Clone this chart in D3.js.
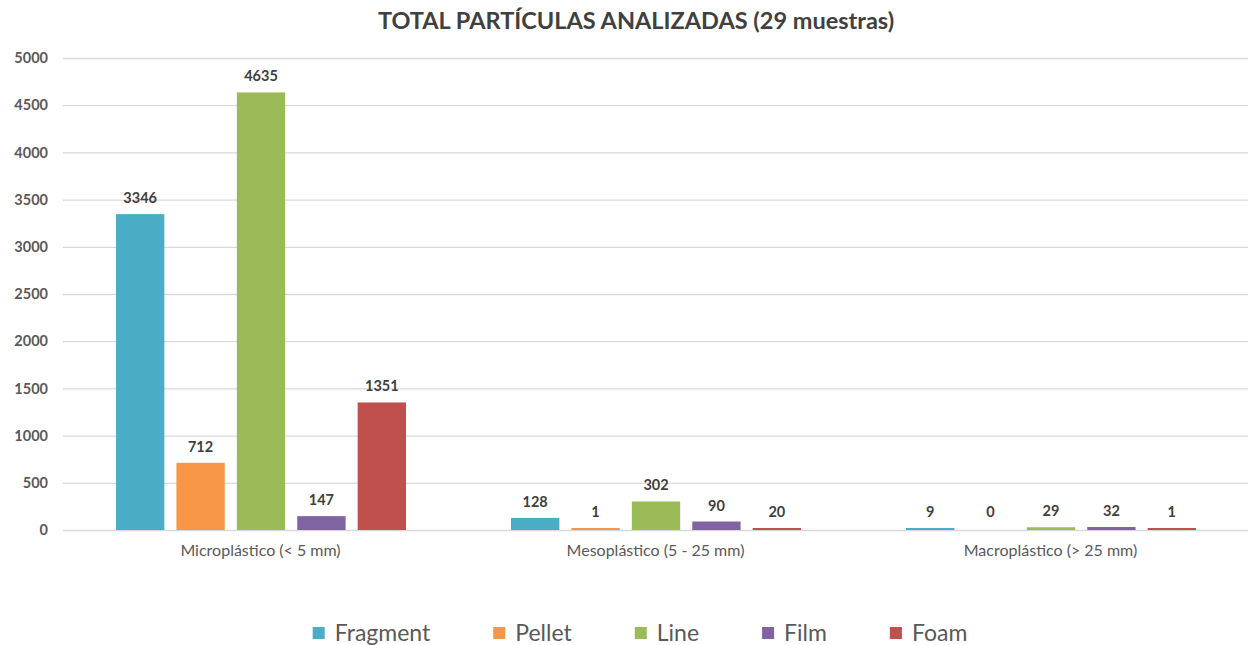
<!DOCTYPE html>
<html>
<head>
<meta charset="utf-8">
<script src="https://cdn.jsdelivr.net/npm/d3@7"></script>
<style>
  body { margin: 0; background: #fff; }
  svg { display: block; font-family: Lato, "Open Sans", sans-serif; }
</style>
</head>
<body>
<div id="chart"></div>
<script>
var categories = ["Microplástico (< 5 mm)", "Mesoplástico (5 - 25 mm)", "Macroplástico (> 25 mm)"];
var seriesNames = ["Fragment", "Pellet", "Line", "Film", "Foam"];
var fragment = [3346, 128, 9];
var pellet = [712, 1, 0];
var line = [4635, 302, 29];
var film = [147, 90, 32];
var foam = [1351, 20, 1];
var yTicks = [0, 500, 1000, 1500, 2000, 2500, 3000, 3500, 4000, 4500, 5000];
var colors = ["#4bacc6", "#f79646", "#9bbb59", "#8064a2", "#c0504d"];

var seriesValues = [fragment, pellet, line, film, foam];

var width = 1248, height = 645;
var margin = {top: 58, right: 0, bottom: 115, left: 63};
var innerW = width - margin.left - margin.right;
var innerH = height - margin.top - margin.bottom;

var svg = d3.select("#chart").append("svg")
    .attr("width", width)
    .attr("height", height);

svg.append("text")
    .attr("x", 636)
    .attr("y", 29)
    .attr("text-anchor", "middle")
    .style("font-size", "23.5px")
    .style("font-weight", "bold")
    .style("fill", "#404040")
    .text("TOTAL PARTÍCULAS ANALIZADAS (29 muestras)");

var g = svg.append("g")
    .attr("transform", "translate(" + margin.left + "," + margin.top + ")");

var x0 = d3.scaleBand()
    .domain(categories)
    .range([0, innerW])
    .paddingInner(0)
    .paddingOuter(0);

var x1 = d3.scaleBand()
    .domain(seriesNames)
    .range([53, x0.bandwidth() - 52])
    .paddingInner(0.2)
    .paddingOuter(0);

var y = d3.scaleLinear()
    .domain([0, 5000])
    .range([innerH, 0]);

// grid + y labels
var yAxis = d3.axisLeft(y)
    .tickValues(yTicks)
    .tickFormat(d3.format("d"))
    .tickSize(-innerW)
    .tickPadding(15);

g.append("g")
    .attr("class", "yAxis")
    .call(yAxis)
    .call(function(s) {
      s.select(".domain").remove();
      s.selectAll(".tick line").attr("stroke", "#d9d9d9").attr("stroke-width", 1.3);
      s.selectAll(".tick text")
        .style("font-size", "14.5px")
        .style("font-weight", "bold")
        .style("fill", "#595959")
        .style("font-family", "Lato, 'Open Sans', sans-serif");
    });

// x labels
var xAxis = d3.axisBottom(x0).tickSize(0).tickPadding(15);
g.append("g")
    .attr("transform", "translate(0," + innerH + ")")
    .call(xAxis)
    .call(function(s) {
      s.select(".domain").remove();
      s.selectAll(".tick text")
        .style("font-size", "16px")
        .style("fill", "#595959")
        .style("font-family", "Lato, 'Open Sans', sans-serif");
    });

var groups = g.selectAll(".grp")
    .data(categories)
    .enter().append("g")
    .attr("class", "grp")
    .attr("transform", function(d) { return "translate(" + x0(d) + ",0)"; });

groups.each(function(cat, ci) {
  var grp = d3.select(this);
  var rows = seriesNames.map(function(s, si) {
    return {name: s, value: seriesValues[si][ci], color: colors[si]};
  });

  grp.selectAll("rect")
    .data(rows.filter(function(d) { return d.value > 0; }))
    .enter().append("rect")
    .attr("x", function(d) { return x1(d.name); })
    .attr("width", x1.bandwidth())
    .attr("y", function(d) { return Math.min(y(d.value), innerH - 2); })
    .attr("height", function(d) { return Math.max(innerH - y(d.value), 2); })
    .attr("fill", function(d) { return d.color; });

  grp.selectAll("text.val")
    .data(rows)
    .enter().append("text")
    .attr("class", "val")
    .attr("x", function(d) { return x1(d.name) + x1.bandwidth() / 2; })
    .attr("y", function(d) { return Math.min(y(d.value), innerH - 2) - 11; })
    .attr("text-anchor", "middle")
    .style("font-size", "14.5px")
    .style("font-weight", "bold")
    .style("fill", "#404040")
    .text(function(d) { return d.value; });
});

// legend
var legend = svg.append("g");
var items = legend.selectAll("g")
    .data(seriesNames)
    .enter().append("g");

items.append("rect")
    .attr("width", 12)
    .attr("height", 12)
    .attr("y", 627)
    .attr("fill", function(d, i) { return colors[i]; });

items.append("text")
    .attr("x", 22)
    .attr("y", 641)
    .style("font-size", "23px")
    .style("fill", "#595959")
    .text(function(d) { return d; });

var gap = 63;
var pos = 0, offsets = [];
items.each(function() {
  offsets.push(pos);
  pos += 22 + d3.select(this).select("text").node().getComputedTextLength() + gap;
});
var total = pos - gap;
var start = 640 - total / 2;
items.attr("transform", function(d, i) { return "translate(" + (start + offsets[i]) + ",0)"; });
</script>
</body>
</html>
